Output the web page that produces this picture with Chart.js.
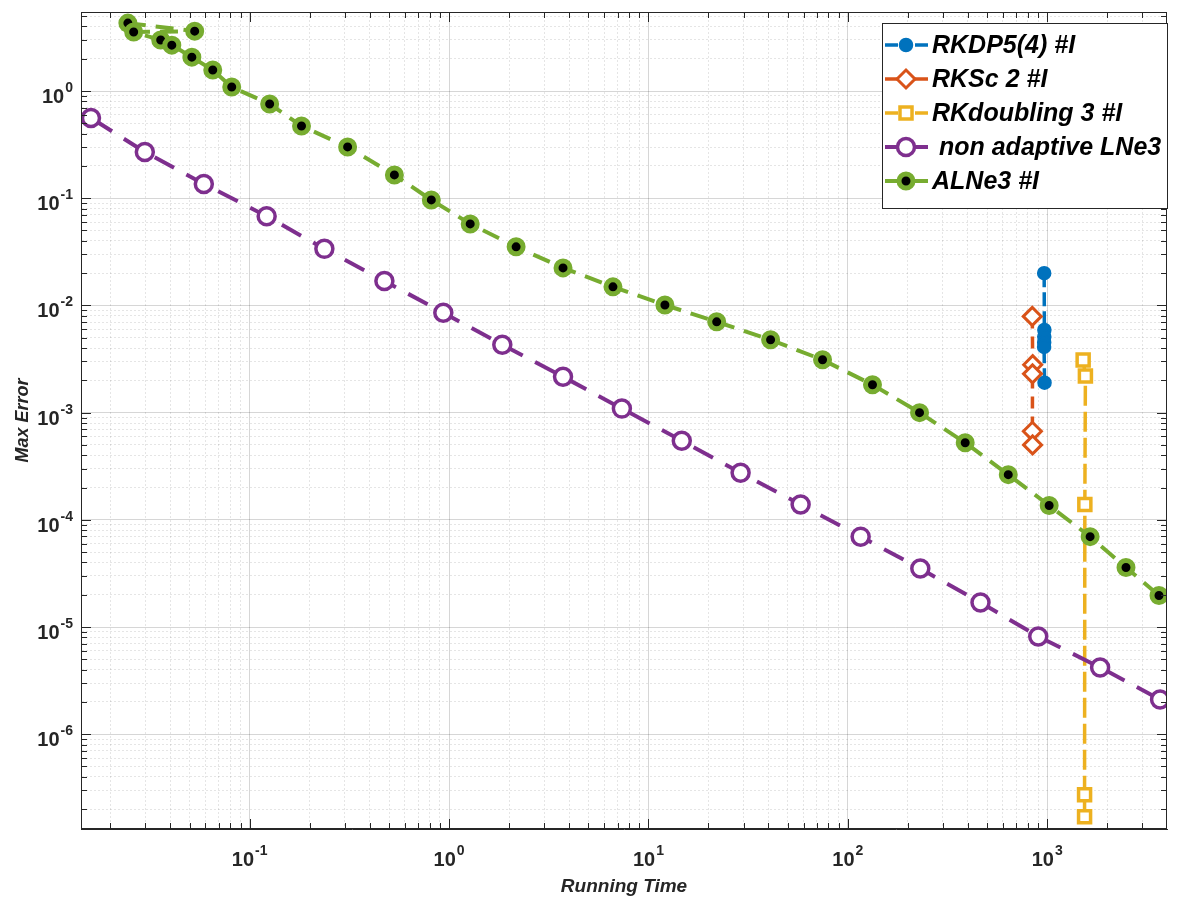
<!DOCTYPE html>
<html>
<head>
<meta charset="utf-8">
<script src="https://cdn.jsdelivr.net/npm/chart.js@4.4.0/dist/chart.umd.min.js"></script>
<style>
  html, body { margin: 0; padding: 0; background: #fff; }
  #wrap { width: 1179px; height: 905px; position: relative; }
</style>
</head>
<body>
<div id="wrap"><canvas id="errChart"></canvas></div>
<script>
// series names (legend order)
const seriesNames = ['RKDP5(4) #I', 'RKSc 2 #I', 'RKdoubling 3 #I', ' non adaptive LNe3', 'ALNe3 #I'];

// RKDP5(4)
const rkdpTime = [966, 968, 967, 966, 965, 970];
const rkdpErr = [0.0200, 0.0059, 0.0051, 0.0045, 0.0041, 0.0019];

// RKSc 2
const rkscTime = [842, 846, 844, 843, 845];
const rkscErr = [0.0079, 0.0028, 0.0023, 0.00067, 0.00050];

// RKdoubling 3
const rkdoubTime = [1515, 1555, 1545, 1540, 1540];
const rkdoubErr = [0.0031, 0.0022, 1.39e-4, 2.72e-7, 1.70e-7];

// non adaptive LNe3
const lneTime = [0.0079, 0.0160, 0.0298, 0.0589, 0.1217, 0.237, 0.474, 0.936, 1.85, 3.73, 7.36, 14.7, 29.0, 58.0, 116, 231, 463, 902, 1843, 3683];
const lneErr = [1.12, 0.560, 0.270, 0.136, 0.068, 0.0337, 0.0169, 0.00853, 0.00430, 0.00216, 0.00109, 5.47e-4, 2.75e-4, 1.39e-4, 6.97e-5, 3.51e-5, 1.69e-5, 8.16e-6, 4.20e-6, 2.11e-6];

// ALNe3
const alneTime = [0.0245, 0.0530, 0.0262, 0.0358, 0.0407, 0.0513, 0.0653, 0.0813, 0.126, 0.182, 0.310, 0.532, 0.815, 1.277, 2.17, 3.73, 6.64, 12.1, 22.0, 41.0, 74.7, 133, 229, 388, 638, 1023, 1642, 2485, 3637];
const alneErr = [4.30, 3.62, 3.55, 2.99, 2.68, 2.07, 1.57, 1.09, 0.757, 0.472, 0.301, 0.165, 0.0964, 0.0576, 0.0352, 0.0224, 0.0149, 0.0101, 0.00703, 0.00478, 0.00311, 0.00182, 0.00100, 5.24e-4, 2.64e-4, 1.36e-4, 6.97e-5, 3.59e-5, 1.97e-5];

// axis limits and labelled decades
const xMin = 0.01426, xMax = 3990;
const yMin = 1.306e-7, yMax = 5.46;
const xTickExps = [-1, 0, 1, 2, 3];
const yTickExps = [0, -1, -2, -3, -4, -5, -6];

const INK = '#262626';
const isMajor = (v) => Math.abs(Math.log10(v) - Math.round(Math.log10(v))) < 1e-9;

// 1..9 x 10^n gridlines in the range
function logGrid(lo, hi) {
  const out = [];
  for (let e = Math.floor(Math.log10(lo)); e <= Math.ceil(Math.log10(hi)); e++) {
    for (let m = 1; m < 10; m++) {
      const v = m * Math.pow(10, e);
      if (v >= lo && v <= hi) out.push(v);
    }
  }
  return out;
}

const toXY = (xs, ys) => xs.map((x, i) => ({ x: x, y: ys[i] }));

function labelFont(size, italic) {
  return (italic ? 'italic ' : '') + 'bold ' + size + 'px "Liberation Sans", Arial, sans-serif';
}

function drawPow(ctx, exp, x, y, align) {
  const base = '10', sup = String(exp);
  ctx.font = labelFont(20);
  const wb = ctx.measureText(base).width;
  ctx.font = labelFont(14);
  const ws = ctx.measureText(sup).width;
  const total = wb + 1 + ws;
  const x0 = align === 'center' ? x - total / 2 : x - total;
  ctx.font = labelFont(20);
  ctx.fillText(base, x0, y);
  ctx.font = labelFont(14);
  ctx.fillText(sup, x0 + wb + 1, y - 11);
}

const axesDeco = {
  id: 'axesDeco',
  afterDatasetsDraw(chart) {
    const { ctx, chartArea: a, scales } = chart;
    ctx.save();
    ctx.strokeStyle = INK;
    ctx.lineWidth = 1;
    ctx.beginPath();
    scales.x.ticks.forEach((t) => {
      const px = Math.round(scales.x.getPixelForValue(t.value)) + 0.5;
      const len = isMajor(t.value) ? 10 : 6;
      ctx.moveTo(px, a.bottom); ctx.lineTo(px, a.bottom - len);
      ctx.moveTo(px, a.top); ctx.lineTo(px, a.top + len);
    });
    scales.y.ticks.forEach((t) => {
      const py = Math.round(scales.y.getPixelForValue(t.value)) + 0.5;
      const len = isMajor(t.value) ? 10 : 6;
      ctx.moveTo(a.left, py); ctx.lineTo(a.left + len, py);
      ctx.moveTo(a.right, py); ctx.lineTo(a.right - len, py);
    });
    ctx.stroke();
    ctx.strokeRect(Math.round(a.left) + 0.5, Math.round(a.top) + 0.5, Math.round(a.width) - 1, Math.round(a.height) - 1);
    ctx.restore();
  },
  afterDraw(chart) {
    const { ctx, chartArea: a, scales } = chart;
    ctx.save();
    ctx.fillStyle = INK;
    ctx.textAlign = 'left';
    ctx.textBaseline = 'alphabetic';
    xTickExps.forEach((e) => {
      drawPow(ctx, e, scales.x.getPixelForValue(Math.pow(10, e)), a.bottom + 37, 'center');
    });
    yTickExps.forEach((e) => {
      drawPow(ctx, e, a.left - 8, scales.y.getPixelForValue(Math.pow(10, e)) + 12, 'right');
    });

    // axis titles
    ctx.textAlign = 'center';
    ctx.textBaseline = 'middle';
    ctx.font = labelFont(19, true);
    ctx.fillText('Running Time', (a.left + a.right) / 2, 887);
    ctx.translate(23, (a.top + a.bottom) / 2);
    ctx.rotate(-Math.PI / 2);
    ctx.font = labelFont(18, true);
    ctx.fillText('Max Error', 0, 0);
    ctx.restore();

    // legend box
    ctx.save();
    const bx = 882, by = 23, bw = 285, bh = 185;
    ctx.fillStyle = '#fff';
    ctx.fillRect(bx, by, bw, bh);
    ctx.strokeStyle = INK;
    ctx.lineWidth = 1;
    ctx.strokeRect(bx + 0.5, by + 0.5, bw, bh);
    chart.data.datasets.forEach((ds, i) => {
      const ry = 45 + i * 34;
      ctx.strokeStyle = ds.borderColor;
      ctx.lineWidth = ds.borderWidth;
      ctx.setLineDash([13, 5, 8, 4]);
      ctx.beginPath();
      ctx.moveTo(885, ry); ctx.lineTo(928, ry);
      ctx.stroke();
      ctx.setLineDash([]);
      ctx.fillStyle = ds.pointBackgroundColor;
      ctx.strokeStyle = ds.pointBorderColor;
      ctx.lineWidth = ds.pointBorderWidth;
      Chart.helpers.drawPoint(ctx, { pointStyle: ds.pointStyle, radius: ds.pointRadius, borderWidth: ds.pointBorderWidth, rotation: 0 }, 906, ry);
      ctx.fillStyle = '#000';
      ctx.font = labelFont(25, true);
      ctx.textAlign = 'left';
      ctx.textBaseline = 'middle';
      ctx.fillText(ds.label, 932, ry + 1);
    });
    ctx.restore();
  }
};

function series(i, xs, ys, color, opts) {
  return Object.assign({
    label: seriesNames[i],
    data: toXY(xs, ys),
    borderColor: color,
    pointBorderColor: color,
    pointBackgroundColor: '#fff',
    borderWidth: 3.5,
    pointBorderWidth: 3,
    pointRadius: 7,
    pointHoverRadius: 7,
    fill: false,
    tension: 0
  }, opts);
}

const datasets = [
  series(0, rkdpTime, rkdpErr, '#0072BD', { pointStyle: 'circle', pointBackgroundColor: '#0072BD', pointRadius: 6.5, pointBorderWidth: 1.5, borderDash: [14, 5], order: 5 }),
  series(1, rkscTime, rkscErr, '#D95319', { pointStyle: 'rectRot', pointRadius: 9, borderDash: [12, 8], order: 4 }),
  series(2, rkdoubTime, rkdoubErr, '#EDB120', { pointStyle: 'rect', pointRadius: 8.5, pointBorderWidth: 3.5, borderDash: [20, 6], order: 3 }),
  series(3, lneTime, lneErr, '#7E2F8E', { pointStyle: 'circle', pointRadius: 8.5, pointBorderWidth: 3.5, borderWidth: 4, borderDash: [22, 14], order: 2 }),
  series(4, alneTime, alneErr, '#77AC30', { pointStyle: 'circle', pointBackgroundColor: '#000', pointRadius: 7, pointBorderWidth: 5, borderWidth: 4, borderDash: [18, 10], order: 1 })
];

const gridOpts = {
  color: (c) => (c.tick && isMajor(c.tick.value) ? 'rgba(0,0,0,0.16)' : 'rgba(0,0,0,0.10)'),
  lineWidth: 1,
  drawTicks: false,
  tickLength: 0
};
const borderOpts = {
  color: INK,
  width: 1,
  dash: (c) => (c.tick && !isMajor(c.tick.value) ? [2, 2] : [])
};

new Chart(document.getElementById('errChart'), {
  type: 'line',
  data: { datasets: datasets },
  options: {
    responsive: true,
    maintainAspectRatio: false,
    animation: false,
    events: [],
    layout: { padding: { left: 81, right: 10, top: 12, bottom: 76 } },
    plugins: { legend: { display: false }, tooltip: { enabled: false } },
    scales: {
      x: {
        type: 'logarithmic',
        min: xMin,
        max: xMax,
        afterBuildTicks: (s) => { s.ticks = logGrid(xMin, xMax).map((v) => ({ value: v })); },
        ticks: { display: false },
        grid: gridOpts,
        border: borderOpts
      },
      y: {
        type: 'logarithmic',
        min: yMin,
        max: yMax,
        afterBuildTicks: (s) => { s.ticks = logGrid(yMin, yMax).map((v) => ({ value: v })); },
        ticks: { display: false },
        grid: gridOpts,
        border: borderOpts
      }
    }
  },
  plugins: [axesDeco]
});
</script>
</body>
</html>
